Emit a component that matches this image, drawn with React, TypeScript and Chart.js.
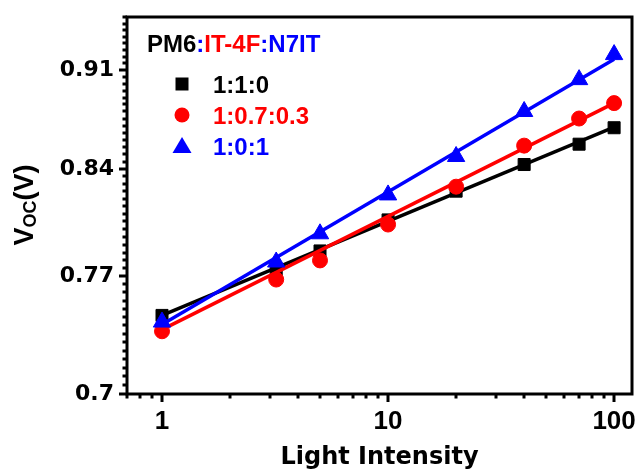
import React, { useEffect, useRef } from 'react';
import { Chart, registerables } from 'chart.js';

Chart.register(...registerables);

// Light intensity (x) values
const intensity = [1, 3.2, 5, 10, 20, 40, 70, 100];
// Voc values for each blend ratio
const voc110 = [0.746, 0.774, 0.786, 0.806, 0.825, 0.843, 0.857, 0.8685];
const voc1073 = [0.7365, 0.768, 0.78, 0.803, 0.828, 0.856, 0.875, 0.886];
const voc101 = [0.742, 0.779, 0.797, 0.8225, 0.8485, 0.88, 0.903, 0.9215];
// Fitted line end points
const fitX = [1, 100];
const fit110 = [0.746, 0.869];
const fit1073 = [0.7375, 0.886];
const fit101 = [0.7405, 0.918];

const seriesLabels = ['1:1:0', '1:0.7:0.3', '1:0:1'];
const seriesColors = ['#000000', '#ff0000', '#0000ff'];
const seriesShapes = ['rect', 'circle', 'triangle'];
const titleParts = ['PM6', ':', 'IT-4F', ':N7IT'];
const titlePartColors = ['#000000', '#0000ff', '#ff0000', '#0000ff'];

const xTicks = [1, 10, 100];
const yTicks = [0.7, 0.77, 0.84, 0.91];
const xMin = 0.7;
const xMax = 120;
const yMin = 0.7;
const yMax = 0.95;

const pts = (xs: number[], ys: number[]) => xs.map((x, i) => ({ x, y: ys[i] }));

function drawMarker(ctx: CanvasRenderingContext2D, shape: string, x: number, y: number, color: string) {
  ctx.fillStyle = color;
  ctx.beginPath();
  if (shape === 'rect') {
    ctx.rect(x - 6.5, y - 6.5, 13, 13);
  } else if (shape === 'circle') {
    ctx.arc(x, y, 7.5, 0, Math.PI * 2);
  } else {
    ctx.moveTo(x, y - 9);
    ctx.lineTo(x + 9.5, y + 7);
    ctx.lineTo(x - 9.5, y + 7);
    ctx.closePath();
  }
  ctx.fill();
}

const decorPlugin = {
  id: 'decor',
  afterDraw(chart: any) {
    const { ctx, chartArea: ca, scales } = chart;
    const x = scales.x;
    const y = scales.y;
    ctx.save();
    ctx.strokeStyle = '#000';
    ctx.lineCap = 'butt';

    // x ticks (major + minor), outward
    const xt = (v: number, len: number, w: number) => {
      const px = Math.round(x.getPixelForValue(v));
      ctx.lineWidth = w;
      ctx.beginPath();
      ctx.moveTo(px, ca.bottom);
      ctx.lineTo(px, ca.bottom + len);
      ctx.stroke();
    };
    for (let d = 0.1; d <= 10; d *= 10) {
      for (let k = 1; k <= 9; k++) {
        const v = +(k * d).toPrecision(3);
        if (v < xMin - 1e-9 || v > xMax + 1e-9) continue;
        if (xTicks.indexOf(v) >= 0) continue;
        xt(v, 4.5, 3);
      }
    }
    xTicks.forEach((v) => xt(v, 8, 3));

    // y ticks
    const yt = (v: number, len: number, w: number) => {
      const py = Math.round(y.getPixelForValue(v));
      ctx.lineWidth = w;
      ctx.beginPath();
      ctx.moveTo(ca.left, py);
      ctx.lineTo(ca.left - len, py);
      ctx.stroke();
    };
    for (let i = 140; i <= 190; i++) {
      const v = i / 200;
      if (yTicks.some((t) => Math.abs(t - v) < 1e-9)) continue;
      yt(v, 4.5, 3);
    }
    yTicks.forEach((v) => yt(v, 8, 3));

    // frame
    ctx.lineWidth = 3;
    ctx.strokeRect(ca.left, ca.top, ca.right - ca.left, ca.bottom - ca.top);

    // title inside plot
    ctx.font = 'bold 24px "Liberation Sans", Arial, sans-serif';
    ctx.textBaseline = 'alphabetic';
    ctx.textAlign = 'left';
    let tx = 147;
    titleParts.forEach((p, i) => {
      ctx.fillStyle = titlePartColors[i];
      ctx.fillText(p, tx, 51.5);
      tx += ctx.measureText(p).width;
    });

    // legend
    seriesLabels.forEach((lab, i) => {
      const cy = 84 + i * 31;
      drawMarker(ctx, seriesShapes[i], 182, cy, seriesColors[i]);
      ctx.fillStyle = seriesColors[i];
      ctx.fillText(lab, 213, cy + 8.5);
    });

    // x title
    ctx.fillStyle = '#000';
    ctx.textAlign = 'center';
    ctx.font = 'bold 24px "DejaVu Sans", sans-serif';
    ctx.fillText('Light Intensity', (ca.left + ca.right) / 2, 464);

    // y title (rotated) V_OC(V)
    ctx.save();
    ctx.translate(33, 205);
    ctx.rotate(-Math.PI / 2);
    const bigFont = 'bold 27px "Liberation Sans", Arial, sans-serif';
    const smallFont = 'bold 18px "Liberation Sans", Arial, sans-serif';
    ctx.font = bigFont;
    const wV = ctx.measureText('V').width;
    const wP = ctx.measureText('(V)').width;
    ctx.font = smallFont;
    const wS = ctx.measureText('OC').width;
    let sx = -(wV + wS + wP) / 2;
    ctx.textAlign = 'left';
    ctx.font = bigFont;
    ctx.fillText('V', sx, 0);
    sx += wV;
    ctx.font = smallFont;
    ctx.fillText('OC', sx, 3);
    sx += wS;
    ctx.font = bigFont;
    ctx.fillText('(V)', sx, 0);
    ctx.restore();

    ctx.restore();
  },
};

export default function App() {
  const ref = useRef<HTMLCanvasElement | null>(null);
  useEffect(() => {
    if (!ref.current) return;
    const lineDs = (data: number[], color: string, order: number) => ({
      data: pts(fitX, data),
      showLine: true,
      borderColor: color,
      backgroundColor: color,
      borderWidth: 3.5,
      pointRadius: 0,
      order,
    });
    const ptDs = (data: number[], color: string, shape: string, radius: number, order: number) => ({
      data: pts(intensity, data),
      showLine: false,
      borderColor: color,
      backgroundColor: color,
      pointStyle: shape,
      pointRadius: radius,
      pointBorderWidth: 1,
      order,
    });
    const chart = new Chart(ref.current, {
      type: 'scatter',
      data: {
        datasets: [
          ptDs(voc101, seriesColors[2], 'triangle', 10, 1),
          lineDs(fit101, seriesColors[2], 2),
          ptDs(voc1073, seriesColors[1], 'circle', 7.5, 3),
          lineDs(fit1073, seriesColors[1], 4),
          ptDs(voc110, seriesColors[0], 'rect', 8.5, 5),
          lineDs(fit110, seriesColors[0], 6),
        ] as any,
      },
      options: {
        animation: false,
        responsive: false,
        layout: { padding: { top: 17, right: 4, left: 0, bottom: 0 } },
        plugins: { legend: { display: false }, tooltip: { enabled: false }, title: { display: false } },
        scales: {
          x: {
            type: 'logarithmic',
            min: xMin,
            max: xMax,
            grid: { display: false, drawTicks: false },
            border: { display: false },
            ticks: {
              color: '#000',
              font: { family: '"Liberation Sans", Arial, sans-serif', size: 26, weight: 'bold' },
              padding: 12,
              autoSkip: false,
              maxRotation: 0,
              callback: (v: any) => String(v),
            },
            afterBuildTicks: (s: any) => {
              s.ticks = xTicks.map((v) => ({ value: v }));
            },
            afterFit: (s: any) => {
              s.height = 78;
              s.paddingLeft = 0;
              s.paddingRight = 0;
              s.paddingTop = 0;
              s.paddingBottom = 0;
            },
          },
          y: {
            type: 'logarithmic',
            min: yMin,
            max: yMax,
            grid: { display: false, drawTicks: false },
            border: { display: false },
            ticks: {
              color: '#000',
              font: { family: '"DejaVu Sans", sans-serif', size: 22, weight: 'bold' },
              padding: 13,
              autoSkip: false,
              callback: (v: any) => String(v),
            },
            afterBuildTicks: (s: any) => {
              s.ticks = yTicks.map((v) => ({ value: v }));
            },
            afterFit: (s: any) => {
              s.width = 127;
              s.paddingLeft = 0;
              s.paddingRight = 0;
              s.paddingTop = 0;
              s.paddingBottom = 0;
            },
          },
        },
      } as any,
      plugins: [decorPlugin],
    });
    return () => chart.destroy();
  }, []);
  return (
    <div style={{ position: 'absolute', left: 0, top: 0, width: 643, height: 472, background: '#fff' }}>
      <canvas ref={ref} width={643} height={472} />
    </div>
  );
}
